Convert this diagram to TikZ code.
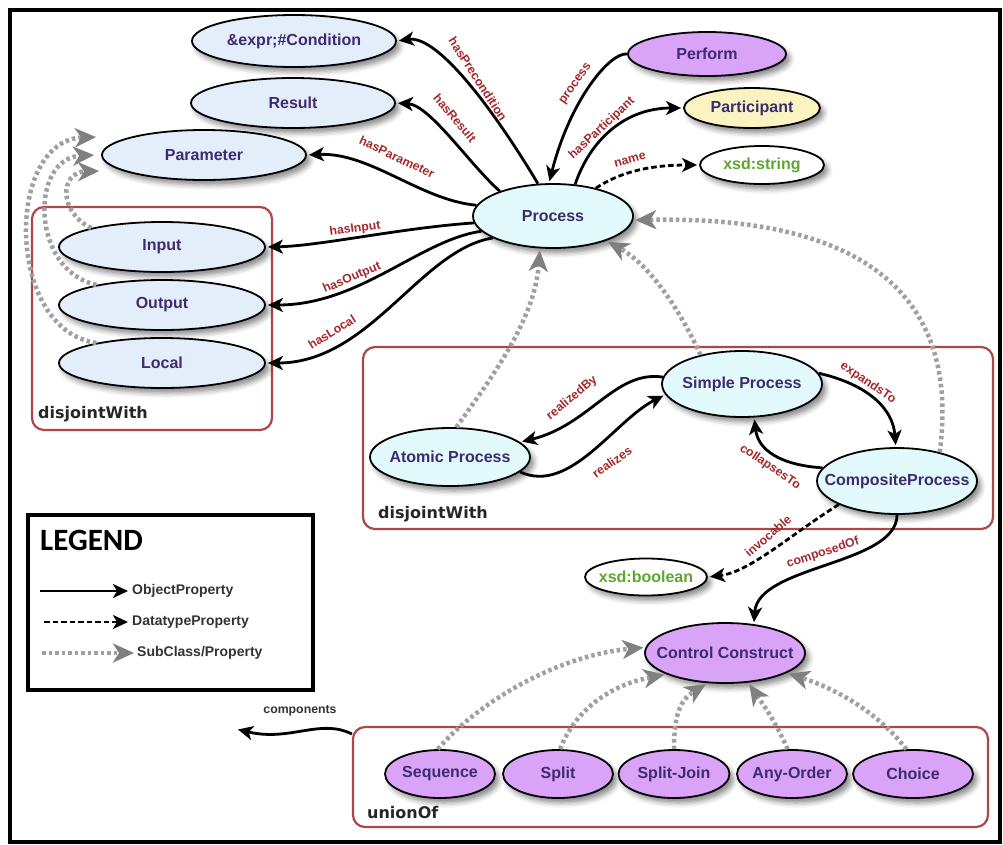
\documentclass[tikz,border=0pt]{standalone}
\usepackage{fontspec}
\setmainfont{Liberation Sans}
\newfontfamily\dvs{DejaVu Sans}
\newfontfamily\legfont{Carlito}
\usetikzlibrary{arrows.meta,shapes.geometric,shadows.blur}
\definecolor{txt}{HTML}{3D2B6F}
\definecolor{lbl}{HTML}{A4282C}
\definecolor{lblue}{HTML}{E4EEFB}
\definecolor{lcyan}{HTML}{E2FAFC}
\definecolor{purp}{HTML}{D9A3F7}
\definecolor{yel}{HTML}{FBF4C2}
\definecolor{grn}{HTML}{5EA62E}
\definecolor{boxred}{HTML}{B04545}
\definecolor{dotgray}{HTML}{A0A0A0}
\definecolor{headgray}{HTML}{808080}
\definecolor{legtext}{HTML}{333333}
\tikzset{
  cls/.style={ellipse, draw=black, line width=1.8pt, inner sep=0pt,
    font=\fontsize{16}{18}\selectfont\bfseries, text=txt,
    blur shadow={shadow xshift=4pt, shadow yshift=-5pt, shadow blur radius=5pt, shadow opacity=45}},
  sz/.style 2 args={minimum width=#1pt, minimum height=#2pt},
  obj/.style={draw=black, line width=2.8pt, shorten >=2pt,
    -{Stealth[length=15pt,width=14pt,inset=4pt]}},
  dat/.style={obj, dash pattern=on 5.5pt off 3pt},
  sub/.style={draw=dotgray, line width=4.5pt, dash pattern=on 3.5pt off 3pt, shorten >=2pt,
    -{Stealth[length=21pt,width=19pt,inset=6pt,color=headgray,fill=headgray]}},
  elbl/.style={font=\fontsize{12.3}{14}\selectfont\bfseries, text=lbl, inner sep=0pt},
  grp/.style={draw=boxred, line width=2.2pt, rounded corners=12pt, inner sep=0pt},
  grplbl/.style={font=\dvs\fontsize{16}{18}\selectfont\bfseries, text=black!85, anchor=base west, inner sep=0pt},
  legtxt/.style={font=\fontsize{14}{16}\selectfont\bfseries, text=legtext, anchor=west, inner sep=0pt}
}
\begin{document}
\begin{tikzpicture}[x=1pt,y=-1pt]
\useasboundingbox (0,0) rectangle (1003,844);
\draw[line width=3.5pt] (10,10) rectangle (1000,842);

% groups
\node[grp, sz={240}{223}] (g1) at (152,318.5) {};
\node[grplbl] (g1l) at (38,418) {disjointWith};
\node[grp, sz={630}{182}] (g2) at (678,438) {};
\node[grplbl] (g2l) at (378,518) {disjointWith};
\node[grp, sz={635}{100}] (g3) at (670.5,777) {};
\node[grplbl] (g3l) at (367,818) {unionOf};

% legend
\node[draw=black, line width=3.5pt, sz={285}{175}, inner sep=0pt] (leg) at (170.5,602.5) {};
\node[font=\legfont\fontsize{31}{34}\selectfont\bfseries, anchor=base west, inner sep=0pt] (legt) at (40,550) {LEGEND};
\coordinate (lo1) at (40,591); \coordinate (lo2) at (128,591);
\coordinate (ld1) at (44,622); \coordinate (ld2) at (128,622);
\coordinate (ls1) at (42,653); \coordinate (ls2) at (134,653);
\draw[obj, shorten >=0pt] (lo1) -- (lo2);
\draw[dat, shorten >=0pt] (ld1) -- (ld2);
\draw[sub, shorten >=0pt] (ls1) -- (ls2);
\node[legtxt] (lt1) at (132,591) {ObjectProperty};
\node[legtxt] (lt2) at (132,622) {DatatypeProperty};
\node[legtxt] (lt3) at (137,653) {SubClass/Property};

% class nodes
\node[cls, fill=lblue, sz={204}{52}] (cond) at (294,41) {\makebox[0pt]{\&expr;\#Condition}};
\node[cls, fill=lblue, sz={204}{50}] (res) at (293,103) {\makebox[0pt]{Result}};
\node[cls, fill=lblue, sz={204}{50}] (par) at (204,155) {\makebox[0pt]{Parameter}};
\node[cls, fill=lblue, sz={206}{50}] (inp) at (162,247) {\makebox[0pt]{Input}};
\node[cls, fill=lblue, sz={206}{50}] (out) at (162,305) {\makebox[0pt]{Output}};
\node[cls, fill=lblue, sz={206}{50}] (loc) at (162,363) {\makebox[0pt]{Local}};
\node[cls, fill=lcyan, sz={160}{64}] (proc) at (553,216) {\makebox[0pt]{Process}};
\node[cls, fill=purp, sz={158}{44}] (perf) at (707,54) {\makebox[0pt]{Perform}};
\node[cls, fill=yel, sz={136}{40}] (part) at (752,108) {\makebox[0pt]{Participant}};
\node[cls, fill=white, text=grn, sz={124}{38}] (str) at (762,165) {\makebox[0pt]{xsd:string}};
\node[cls, fill=lcyan, sz={160}{66}] (simp) at (742,384) {\makebox[0pt]{Simple Process}};
\node[cls, fill=lcyan, sz={160}{58}] (atom) at (450,457) {\makebox[0pt]{Atomic Process}};
\node[cls, fill=lcyan, sz={160}{66}] (comp) at (897,481) {\makebox[0pt]{CompositeProcess}};
\node[cls, fill=white, text=grn, sz={122}{37}] (bool) at (646,577) {\makebox[0pt]{xsd:boolean}};
\node[cls, fill=purp, sz={160}{60}] (cc) at (725,653) {\makebox[0pt]{Control Construct}};
\node[cls, fill=purp, sz={110}{48}] (seq) at (440,774) {\makebox[0pt]{Sequence}};
\node[cls, fill=purp, sz={110}{48}] (spl) at (558,774) {\makebox[0pt]{Split}};
\node[cls, fill=purp, sz={111}{48}] (sj) at (674,774) {\makebox[0pt]{Split-Join}};
\node[cls, fill=purp, sz={110}{48}] (ao) at (792,774) {\makebox[0pt]{Any-Order}};
\node[cls, fill=purp, sz={120}{48}] (cho) at (913,774) {\makebox[0pt]{Choice}};

% subclass (dotted) arrows
\draw[sub] (loc.163) .. controls (5,330) and (5,140) .. ([xshift=-3pt,yshift=18pt]par.west);
\draw[sub] (out.163) .. controls (30,270) and (30,158) .. ([xshift=-5pt]par.west);
\draw[sub] (inp.165) .. controls (58,212) and (60,172) .. ([yshift=-16pt]par.west);
\draw[sub] (atom.78) .. controls (490,380) and (535,320) .. (proc.-112);
\draw[sub] (simp.145) .. controls (680,310) and (650,265) .. (proc.-25);
\draw[sub] (comp.34) .. controls (960,300) and (870,215) .. (proc.-3);
\draw[sub] (seq.95) .. controls (480,700) and (560,655) .. (cc.176);
\draw[sub] (spl.85) .. controls (575,710) and (610,685) .. (cc.-160);
\draw[sub] (sj.90) .. controls (674,715) and (680,700) .. (cc.-120);
\draw[sub] (ao.100) .. controls (775,720) and (760,700) .. (cc.-52);
\draw[sub] (cho.105) .. controls (880,715) and (840,690) .. (cc.-18);

% object properties from Process
\draw[obj] (proc.115) .. controls (500,120) and (440,35) .. (cond.east);
\draw[obj] (proc.155) .. controls (470,165) and (430,105) .. (res.east);
\draw[obj] (proc.172) .. controls (420,200) and (370,152) .. (par.east);
\draw[obj] (proc.-175) .. controls (400,228) and (320,246) .. (inp.east);
\draw[obj] (proc.-168) .. controls (420,240) and (360,305) .. (out.east);
\draw[obj] (proc.-160) .. controls (420,250) and (370,363) .. (loc.east);
\draw[obj] (perf.west) .. controls (610,52) and (570,100) .. (proc.97);
\draw[obj] (proc.55) .. controls (590,140) and (625,108) .. (part.west);
\draw[dat] (proc.33) .. controls (620,172) and (650,165) .. (str.west);

\node[elbl, rotate=-57] (l1) at (478,79) {hasPrecondition};
\node[elbl, rotate=-50] (l2) at (455,118) {hasResult};
\node[elbl, rotate=-25] (l3) at (397,157) {hasParameter};
\node[elbl, rotate=8] (l4) at (355,229) {hasInput};
\node[elbl, rotate=23] (l5) at (352,278) {hasOutput};
\node[elbl, rotate=32] (l6) at (332,332) {hasLocal};
\node[elbl, rotate=55] (l7) at (576,84) {process};
\node[elbl, rotate=43] (l8) at (602,128) {hasParticipant};
\node[elbl, rotate=15] (l9) at (630,160) {name};

% process kinds
\draw[obj] (simp.175) .. controls (615,370) and (590,425) .. (atom.12);
\draw[obj] (atom.-12) .. controls (570,495) and (615,420) .. (simp.-172);
\draw[obj] (simp.8) .. controls (870,385) and (893,410) .. (comp.92);
\draw[obj] (comp.170) .. controls (780,465) and (758,450) .. (simp.-70);
\draw[dat] (comp.-158) .. controls (790,535) and (750,572) .. (bool.east);
\draw[obj] (comp.-90) .. controls (897,565) and (758,565) .. (cc.45);
\coordinate (cend) at (236,729);
\draw[obj] ([yshift=43pt]g3.west) .. controls (320,718) and (290,742) .. (cend);

\node[elbl, rotate=40] (l10) at (572,398) {realizedBy};
\node[elbl, rotate=35] (l11) at (612,462) {realizes};
\node[elbl, rotate=-34] (l12) at (868,383) {expandsTo};
\node[elbl, rotate=-34] (l13) at (770,467) {collapsesTo};
\node[elbl, rotate=41] (l14) at (768,536) {invocable};
\node[elbl, rotate=18] (l15) at (823,553) {composedOf};
\node[elbl, text=black!80] (l16) at (300,711) {components};
\end{tikzpicture}
\end{document}
